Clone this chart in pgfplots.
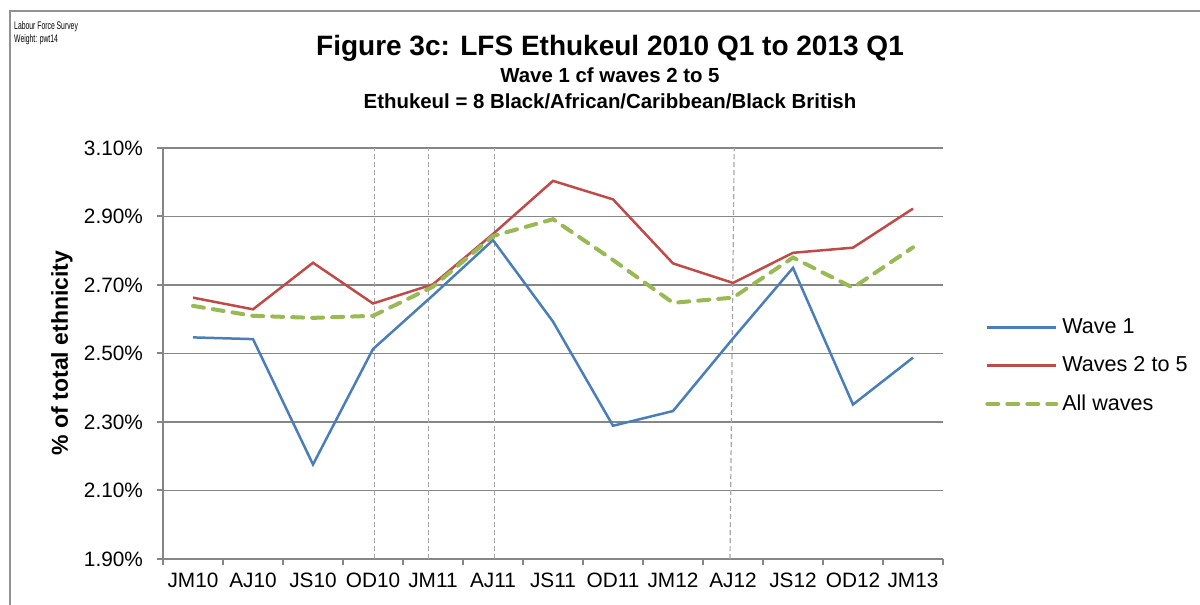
\documentclass[border=0pt]{standalone}
\usepackage{fontspec}
\setmainfont{Liberation Sans}
\usepackage{pgfplots}
\pgfplotsset{compat=1.18}
\definecolor{wblue}{HTML}{4A7EBB}
\definecolor{wred}{HTML}{BE4B48}
\definecolor{wgreen}{HTML}{98B954}
\definecolor{gridc}{HTML}{868686}
\definecolor{vdash}{HTML}{A6A6A6}
\begin{document}
\begin{tikzpicture}
\useasboundingbox (0,0) rectangle (600pt,302.5pt);
\draw[color=gridc!90, line width=1pt] (5pt,0) -- (5pt,297pt) -- (600pt,297pt);
\node[anchor=west, inner sep=0pt, font=\fontsize{5.5}{6}\selectfont, xscale=0.62] at (7pt,289pt) {Labour Force Survey};
\node[anchor=west, inner sep=0pt, font=\fontsize{5.5}{6}\selectfont, xscale=0.62] at (7pt,282.5pt) {Weight: pwt14};
\node[font=\bfseries\fontsize{14}{16}\selectfont, inner sep=0pt] at (305pt,278.5pt) {Figure 3c: LFS Ethukeul 2010 Q1 to 2013 Q1};
\node[font=\bfseries\fontsize{10.2}{12}\selectfont, inner sep=0pt] at (305pt,265pt) {Wave 1 cf waves 2 to 5};
\node[font=\bfseries\fontsize{10.2}{12}\selectfont, inner sep=0pt] at (305pt,252pt) {Ethukeul = 8 Black/African/Caribbean/Black British};
\node[rotate=90, font=\bfseries\fontsize{11.5}{13}\selectfont, inner sep=0pt] at (31pt,126pt) {\% of total ethnicity};
\begin{axis}[
  at={(81.5pt,23pt)}, anchor=south west,
  width=390pt, height=205.5pt, scale only axis,
  xmin=-0.5, xmax=12.5, ymin=1.9, ymax=3.1,
  axis x line*=bottom, axis y line*=left,
  axis line style={draw=gridc, line width=1pt, -},
  tick align=outside,
  xtick={0,...,12},
  xticklabels={JM10,AJ10,JS10,OD10,JM11,AJ11,JS11,OD11,JM12,AJ12,JS12,OD12,JM13},
  major x tick style={draw=none},
  minor xtick={-0.5,0.5,...,12.5},
  minor x tick style={draw=gridc, line width=1pt},
  minor tick length=3pt,
  ytick={1.9,2.1,2.3,2.5,2.7,2.9,3.1},
  y tick style={draw=gridc, line width=1pt},
  major tick length=3pt,
  ymajorgrids,
  grid style={draw=gridc, line width=0.8pt},
  /pgf/number format/assume math mode=true,
  yticklabel={\pgfmathprintnumber[fixed,fixed zerofill,precision=2]{\tick}\%},
  tick label style={font=\fontsize{10.4}{12}\selectfont},
  yticklabel style={xshift=-3.5pt},
  xticklabel style={yshift=-0.5pt},
  legend style={draw=none, fill=none, at={(1.046,0.4696)}, anchor=west,
    font=\fontsize{10.8}{12}\selectfont, row sep=6pt},
  legend cell align=left,
  legend image code/.code={\draw[#1] (0pt,0pt) -- (34.5pt,0pt);},
  clip=false,
]
\draw[vdash, line width=0.6pt, dash pattern=on 2.5pt off 1.5pt] (axis cs:3.02,1.9) -- (axis cs:3.02,3.1);
\draw[vdash, line width=0.6pt, dash pattern=on 2.5pt off 1.5pt] (axis cs:3.93,1.9) -- (axis cs:3.93,3.1);
\draw[vdash, line width=0.6pt, dash pattern=on 2.5pt off 1.5pt] (axis cs:5.03,1.9) -- (axis cs:5.03,3.1);
\draw[vdash, line width=0.6pt, dash pattern=on 2.5pt off 1.5pt] (axis cs:8.95,1.9) -- (axis cs:9.02,3.1);
\addplot[wblue, line width=1.25pt] coordinates {(0,2.547)(1,2.542)(2,2.176)(3,2.513)(4,2.670)(5,2.831)(6,2.593)(7,2.289)(8,2.332)(9,2.544)(10,2.750)(11,2.351)(12,2.488)};
\addlegendentry{Wave 1}
\addplot[wred, line width=1.25pt] coordinates {(0,2.663)(1,2.629)(2,2.765)(3,2.646)(4,2.702)(5,2.849)(6,3.004)(7,2.950)(8,2.763)(9,2.706)(10,2.794)(11,2.809)(12,2.923)};
\addlegendentry{Waves 2 to 5}
\addplot[wgreen, line width=2pt, line cap=round, dash pattern=on 5.5pt off 4.5pt] coordinates {(0,2.639)(1,2.610)(2,2.604)(3,2.610)(4,2.695)(5,2.843)(6,2.892)(7,2.773)(8,2.648)(9,2.663)(10,2.780)(11,2.692)(12,2.810)};
\addlegendentry{All waves}
\end{axis}
\end{tikzpicture}
\end{document}
